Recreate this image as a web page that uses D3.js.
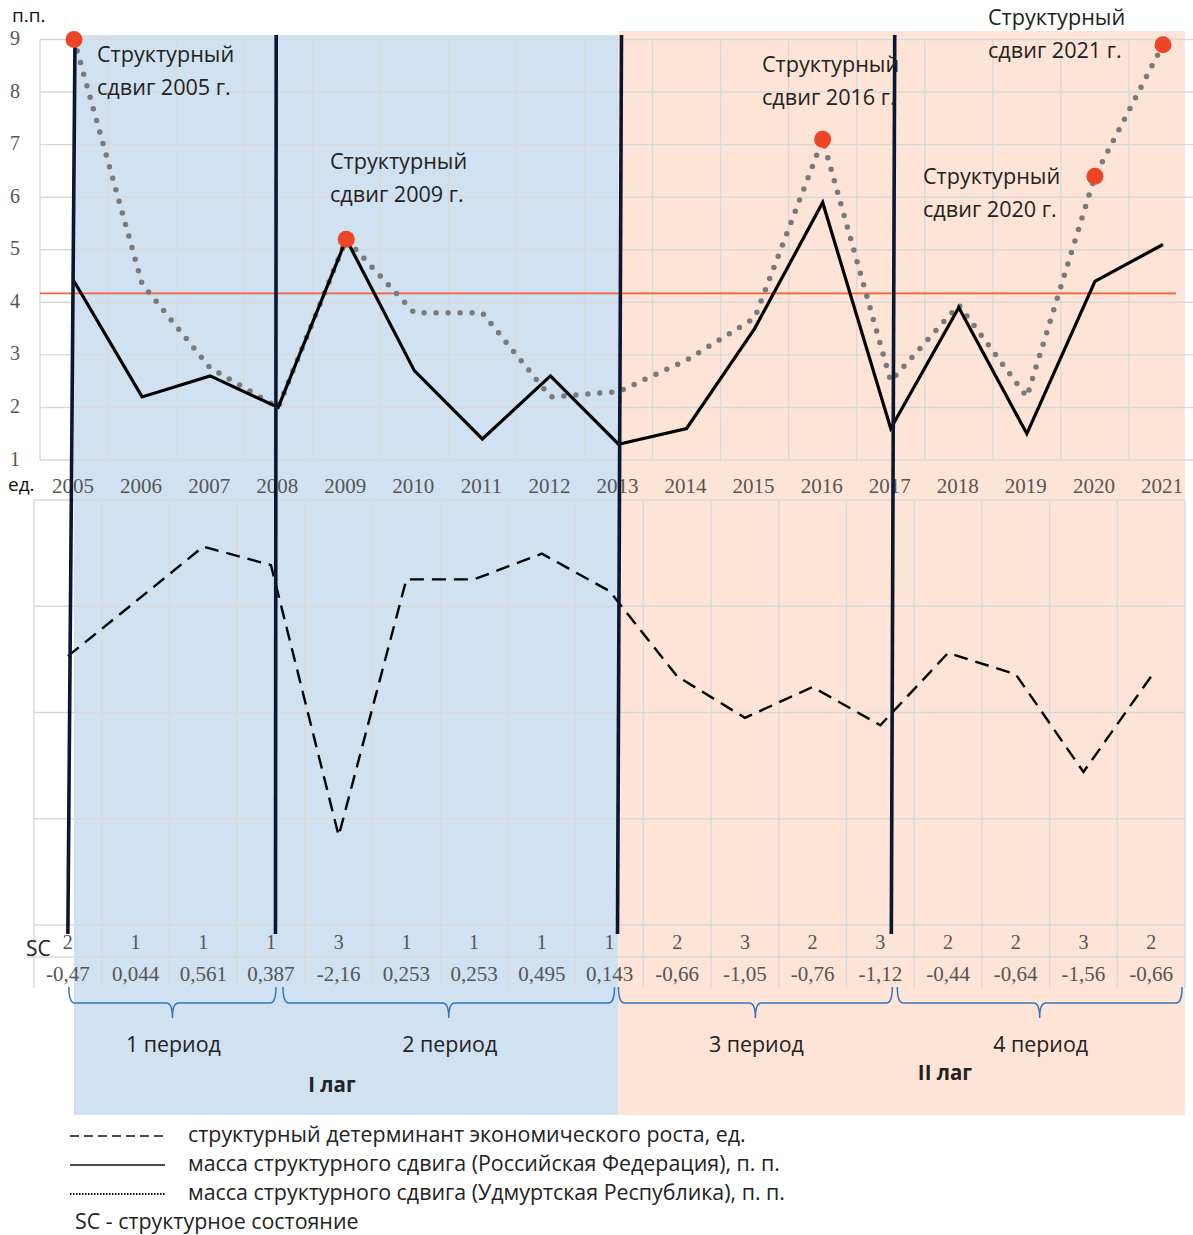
<!DOCTYPE html>
<html>
<head>
<meta charset="utf-8">
<script src="https://cdn.jsdelivr.net/npm/d3@7"></script>
<style>
  body { margin: 0; background: #fff; }
  svg text { font-family: "Open Sans", "Noto Sans", sans-serif; }
  .serif { font-family: "Liberation Serif", "DejaVu Serif", serif !important; fill: #555; }
</style>
</head>
<body>
<svg id="chart" width="1193" height="1235"></svg>
<script>
// ---- data ----
const years = [2005, 2006, 2007, 2008, 2009, 2010, 2011, 2012, 2013, 2014, 2015, 2016, 2017, 2018, 2019, 2020, 2021];
// mass of structural shift, percentage points
const massRF = [4.4, 2.2, 2.6, 2.0, 5.2, 2.7, 1.4, 2.6, 1.3, 1.6, 3.5, 5.9, 1.6, 3.9, 1.5, 4.4, 5.1];
const massUR = [9.0, 4.35, 2.75, 2.0, 5.2, 3.8, 3.8, 2.2, 2.3, 2.9, 3.7, 7.1, 2.5, 3.95, 2.2, 6.4, 8.9];
// structural determinant of economic growth, units
const determinant = [-0.47, 0.044, 0.561, 0.387, -2.16, 0.253, 0.253, 0.495, 0.143, -0.66, -1.05, -0.76, -1.12, -0.44, -0.64, -1.56, -0.66];
// structural state (SC)
const structState = [2, 1, 1, 1, 3, 1, 1, 1, 1, 2, 3, 2, 3, 2, 2, 3, 2];
const shiftYears = [2005, 2009, 2016, 2020, 2021];
const lagLineYears = [2005, 2008, 2013, 2017];
const threshold = 4.17;
const yTicksTop = [1, 2, 3, 4, 5, 6, 7, 8, 9];
const yTicksBottom = [-3, -2, -1, 0, 1];
const periods = [
  { label: "1 период", from: 2005, to: 2008 },
  { label: "2 период", from: 2008, to: 2013 },
  { label: "3 период", from: 2013, to: 2017 },
  { label: "4 период", from: 2017, to: 2021 }
];
const lags = [
  { label: "I лаг", from: 2005, to: 2013 },
  { label: "II лаг", from: 2013, to: 2021 }
];
const shiftNotes = [
  { year: 2005, lines: ["Структурный", "сдвиг 2005 г."], x: 97, y: 56 },
  { year: 2009, lines: ["Структурный", "сдвиг 2009 г."], x: 330, y: 163 },
  { year: 2016, lines: ["Структурный", "сдвиг 2016 г."], x: 762, y: 66 },
  { year: 2020, lines: ["Структурный", "сдвиг 2020 г."], x: 923, y: 178 },
  { year: 2021, lines: ["Структурный", "сдвиг 2021 г."], x: 988, y: 19 }
];
const legendItems = [
  { kind: "dash", text: "структурный детерминант экономического роста, ед." },
  { kind: "solid", text: "масса структурного сдвига (Российская Федерация), п. п." },
  { kind: "dot", text: "масса структурного сдвига (Удмуртская Республика), п. п." }
];

// ---- scales ----
const svg = d3.select("#chart");
const xTop = d3.scaleBand().domain(years).range([40, 1197]);
const yTop = d3.scaleLinear().domain([1, 9]).range([460, 39.5]);
const xBot = d3.scaleBand().domain(years).range([34, 1185]);
const yBot = d3.scaleLinear().domain([-3, 1]).range([925, 500]);
const cxTop = y => xTop(y) + xTop.bandwidth() / 2;
const cxBot = y => xBot(y) + xBot.bandwidth() / 2;

const BLUE = "#d0e1f2", PINK = "#fde4d6", GRID = "#d9d9d9";

// ---- lag backgrounds ----
svg.append("rect").attr("x", cxTop(2005)).attr("y", 35)
  .attr("width", cxTop(2013) - cxTop(2005)).attr("height", 1115 - 35).attr("fill", BLUE);
svg.append("rect").attr("x", cxTop(2013)).attr("y", 31)
  .attr("width", xBot.range()[1] - cxTop(2013)).attr("height", 1115 - 31).attr("fill", PINK);

// ---- upper chart grid ----
const gTop = svg.append("g");
gTop.selectAll("line.h").data(yTicksTop).join("line")
  .attr("x1", 40).attr("x2", 1193)
  .attr("y1", d => yTop(d)).attr("y2", d => yTop(d))
  .attr("stroke", GRID).attr("stroke-width", 1.4);
gTop.selectAll("line.v").data(years.concat([null])).join("line")
  .attr("x1", (d, i) => xTop.range()[0] + i * xTop.step())
  .attr("x2", (d, i) => xTop.range()[0] + i * xTop.step())
  .attr("y1", yTop(9)).attr("y2", yTop(1))
  .attr("stroke", GRID).attr("stroke-width", 1.4);

// y tick labels
gTop.selectAll("text.yt").data(yTicksTop).join("text")
  .attr("class", "serif").attr("x", 20).attr("y", d => yTop(d) + 1)
  .attr("text-anchor", "end").attr("dominant-baseline", "middle")
  .attr("font-size", 20).text(d => d);
// x tick labels
gTop.selectAll("text.xt").data(years).join("text")
  .attr("class", "serif").attr("x", d => cxTop(d) - 1).attr("y", 488)
  .attr("text-anchor", "middle").attr("dominant-baseline", "middle")
  .attr("font-size", 21).text(d => d);

svg.append("text").attr("x", 12).attr("y", 17).attr("dominant-baseline", "middle")
  .attr("font-size", 19).attr("fill", "#111").text("п.п.");
svg.append("text").attr("x", 8).attr("y", 486).attr("dominant-baseline", "middle")
  .attr("font-size", 19).attr("fill", "#111").text("ед.");

// ---- lower chart grid + table ----
const gBot = svg.append("g");
gBot.selectAll("line.h").data(yTicksBottom).join("line")
  .attr("x1", xBot.range()[0]).attr("x2", xBot.range()[1])
  .attr("y1", d => yBot(d)).attr("y2", d => yBot(d))
  .attr("stroke", GRID).attr("stroke-width", 1.4);
gBot.selectAll("line.v").data(years.concat([null])).join("line")
  .attr("x1", (d, i) => xBot.range()[0] + i * xBot.step())
  .attr("x2", (d, i) => xBot.range()[0] + i * xBot.step())
  .attr("y1", yBot(1)).attr("y2", 988)
  .attr("stroke", GRID).attr("stroke-width", 1.4);
gBot.append("line").attr("x1", 27).attr("x2", xBot.range()[1])
  .attr("y1", 957).attr("y2", 957).attr("stroke", GRID).attr("stroke-width", 1.4);

gBot.selectAll("text.sc").data(structState).join("text")
  .attr("class", "serif").attr("x", (d, i) => cxBot(years[i])).attr("y", 944)
  .attr("text-anchor", "middle").attr("dominant-baseline", "middle")
  .attr("font-size", 20).text(d => d);
gBot.selectAll("text.val").data(determinant).join("text")
  .attr("class", "serif").attr("x", (d, i) => cxBot(years[i])).attr("y", 976)
  .attr("text-anchor", "middle").attr("dominant-baseline", "middle")
  .attr("font-size", 21).text(d => String(d).replace(".", ","));
svg.append("text").attr("x", 26).attr("y", 950).attr("dominant-baseline", "middle")
  .attr("font-size", 21).attr("fill", "#222").text("SC");

// ---- threshold line ----
svg.append("line").attr("x1", 40).attr("x2", 1176)
  .attr("y1", yTop(threshold)).attr("y2", yTop(threshold))
  .attr("stroke", "#f5603a").attr("stroke-width", 1.6);

// ---- series ----
const lineTop = d3.line().x(d => cxTop(d[0])).y(d => yTop(d[1]));
svg.append("path").datum(years.map((y, i) => [y, massUR[i]]))
  .attr("d", lineTop).attr("fill", "none").attr("stroke", "#7a7a7a")
  .attr("stroke-width", 5.5).attr("stroke-linecap", "round").attr("stroke-dasharray", "0 12");
svg.append("path").datum(years.map((y, i) => [y, massRF[i]]))
  .attr("d", lineTop).attr("fill", "none").attr("stroke", "#000")
  .attr("stroke-width", 3.2).attr("stroke-linejoin", "miter");
const lineBot = d3.line().x(d => cxBot(d[0])).y(d => yBot(d[1]));
svg.append("path").datum(years.map((y, i) => [y, determinant[i]]))
  .attr("d", lineBot).attr("fill", "none").attr("stroke", "#000")
  .attr("stroke-width", 2.4).attr("stroke-dasharray", "14 8");

// ---- lag boundary lines (hand-drawn connectors between the two panels) ----
const lagLineShift = { 2005: [1, 0], 2008: [-2, 4.5], 2013: [3, 8], 2017: [4, 11] };
svg.selectAll("line.lag").data(lagLineYears).join("line")
  .attr("x1", d => cxTop(d) + lagLineShift[d][0]).attr("y1", 35)
  .attr("x2", d => cxBot(d) + lagLineShift[d][1]).attr("y2", 934)
  .attr("stroke", "#0b1631").attr("stroke-width", 3.6);

// ---- structural shift markers ----
svg.selectAll("circle.shift").data(shiftYears).join("circle")
  .attr("cx", d => cxTop(d)).attr("cy", d => yTop(massUR[years.indexOf(d)]))
  .attr("r", 8.5).attr("fill", "#ee4526");

const notes = svg.selectAll("g.note").data(shiftNotes).join("g");
notes.each(function (n) {
  const g = d3.select(this);
  n.lines.forEach((t, i) => {
    g.append("text").attr("x", n.x).attr("y", n.y + i * 33)
      .attr("dominant-baseline", "middle").attr("font-size", 21.6)
      .attr("fill", "#222").text(t);
  });
});

// ---- period braces ----
const braceTop = 987, braceMid = 1003, braceTip = 1018;
const periodSpan = [
  [cxBot(2005) + 1, cxBot(2008) + 5],
  [cxBot(2008) + 12, cxBot(2013) + 5],
  [cxBot(2013) + 9, cxBot(2017) + 12],
  [cxBot(2017) + 17, xBot.range()[1] - 3]
];
periods.forEach((p, i) => {
  const [a, b] = periodSpan[i];
  const c = (a + b) / 2, r = 6;
  const path = `M${a},${braceTop} Q${a},${braceMid} ${a + r},${braceMid} L${c - r},${braceMid}` +
    ` Q${c},${braceMid} ${c},${braceTip} Q${c},${braceMid} ${c + r},${braceMid}` +
    ` L${b - r},${braceMid} Q${b},${braceMid} ${b},${braceTop}`;
  svg.append("path").attr("d", path).attr("fill", "none")
    .attr("stroke", "#2f75bd").attr("stroke-width", 1.5);
  svg.append("text").attr("x", c + 1).attr("y", 1046)
    .attr("text-anchor", "middle").attr("dominant-baseline", "middle")
    .attr("font-size", 21.4).attr("fill", "#222").text(p.label);
});

// lag labels
const lagPos = [[332, 1087], [945, 1075]];
lags.forEach((l, i) => {
  svg.append("text").attr("x", lagPos[i][0]).attr("y", lagPos[i][1])
    .attr("text-anchor", "middle").attr("dominant-baseline", "middle")
    .attr("font-size", 20.5).attr("font-weight", "bold").attr("fill", "#222").text(l.label);
});

// ---- legend ----
const lg = svg.append("g");
legendItems.forEach((it, i) => {
  const y = 1136 + i * 29;
  const ln = lg.append("line").attr("x1", 70).attr("x2", 165).attr("y1", y).attr("y2", y)
    .attr("stroke", "#111");
  if (it.kind === "dash") ln.attr("stroke-width", 1.5).attr("stroke-dasharray", "9 5");
  if (it.kind === "solid") ln.attr("stroke-width", 1.5);
  if (it.kind === "dot") ln.attr("stroke-width", 2).attr("stroke-dasharray", "1.5 1.5");
  lg.append("text").attr("x", 188).attr("y", y).attr("dominant-baseline", "middle")
    .attr("font-size", 21.4).attr("fill", "#222").text(it.text);
});
lg.append("text").attr("x", 75).attr("y", 1223).attr("dominant-baseline", "middle")
  .attr("font-size", 21.4).attr("fill", "#222").text("SC - структурное состояние");
</script>
</body>
</html>
